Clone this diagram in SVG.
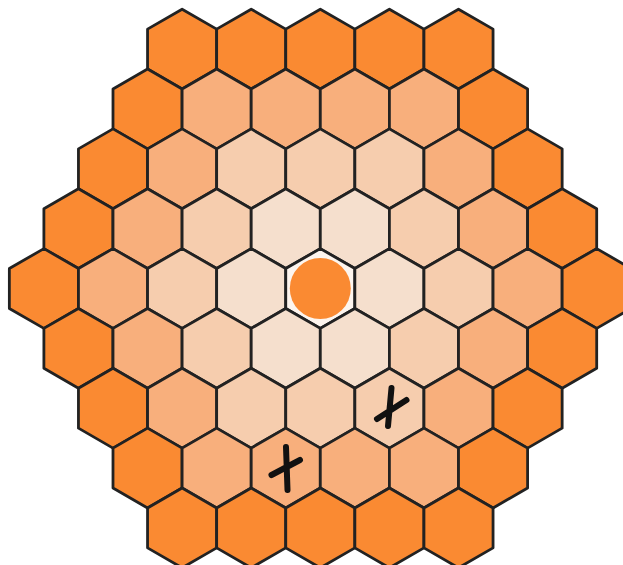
<svg xmlns="http://www.w3.org/2000/svg" xmlns:xlink="http://www.w3.org/1999/xlink" width="623" height="565" viewBox="0 0 623 565">
<style>
.r4{fill:#FA8A32}
.r3{fill:#F8AF7C}
.r2{fill:#F6CDAE}
.r1{fill:#F5DFCD}
.r0{fill:#FDF5EE}
use{stroke:#222;stroke-width:2.8;stroke-linejoin:round}
.x{fill:none;stroke:#111;stroke-width:6;stroke-linecap:round}
</style>
<defs>
<polygon id="h" points="0,-39.9 34.55,-19.95 34.55,19.95 0,39.9 -34.55,19.95 -34.55,-19.95"/>
</defs>
<rect width="623" height="565" fill="#fff"/>
<g id="grid">
<use href="#h" x="182.1" y="49.1" class="r4"/>
<use href="#h" x="251.2" y="49.1" class="r4"/>
<use href="#h" x="320.3" y="49.1" class="r4"/>
<use href="#h" x="389.4" y="49.1" class="r4"/>
<use href="#h" x="458.5" y="49.1" class="r4"/>
<use href="#h" x="147.55" y="108.95" class="r4"/>
<use href="#h" x="216.65" y="108.95" class="r3"/>
<use href="#h" x="285.75" y="108.95" class="r3"/>
<use href="#h" x="354.85" y="108.95" class="r3"/>
<use href="#h" x="423.95" y="108.95" class="r3"/>
<use href="#h" x="493.05" y="108.95" class="r4"/>
<use href="#h" x="113" y="168.8" class="r4"/>
<use href="#h" x="182.1" y="168.8" class="r3"/>
<use href="#h" x="251.2" y="168.8" class="r2"/>
<use href="#h" x="320.3" y="168.8" class="r2"/>
<use href="#h" x="389.4" y="168.8" class="r2"/>
<use href="#h" x="458.5" y="168.8" class="r3"/>
<use href="#h" x="527.6" y="168.8" class="r4"/>
<use href="#h" x="78.45" y="228.65" class="r4"/>
<use href="#h" x="147.55" y="228.65" class="r3"/>
<use href="#h" x="216.65" y="228.65" class="r2"/>
<use href="#h" x="285.75" y="228.65" class="r1"/>
<use href="#h" x="354.85" y="228.65" class="r1"/>
<use href="#h" x="423.95" y="228.65" class="r2"/>
<use href="#h" x="493.05" y="228.65" class="r3"/>
<use href="#h" x="562.15" y="228.65" class="r4"/>
<use href="#h" x="43.9" y="288.5" class="r4"/>
<use href="#h" x="113" y="288.5" class="r3"/>
<use href="#h" x="182.1" y="288.5" class="r2"/>
<use href="#h" x="251.2" y="288.5" class="r1"/>
<use href="#h" x="320.3" y="288.5" class="r0"/>
<use href="#h" x="389.4" y="288.5" class="r1"/>
<use href="#h" x="458.5" y="288.5" class="r2"/>
<use href="#h" x="527.6" y="288.5" class="r3"/>
<use href="#h" x="596.7" y="288.5" class="r4"/>
<use href="#h" x="78.45" y="348.35" class="r4"/>
<use href="#h" x="147.55" y="348.35" class="r3"/>
<use href="#h" x="216.65" y="348.35" class="r2"/>
<use href="#h" x="285.75" y="348.35" class="r1"/>
<use href="#h" x="354.85" y="348.35" class="r1"/>
<use href="#h" x="423.95" y="348.35" class="r2"/>
<use href="#h" x="493.05" y="348.35" class="r3"/>
<use href="#h" x="562.15" y="348.35" class="r4"/>
<use href="#h" x="113" y="408.2" class="r4"/>
<use href="#h" x="182.1" y="408.2" class="r3"/>
<use href="#h" x="251.2" y="408.2" class="r2"/>
<use href="#h" x="320.3" y="408.2" class="r2"/>
<use href="#h" x="389.4" y="408.2" class="r2"/>
<use href="#h" x="458.5" y="408.2" class="r3"/>
<use href="#h" x="527.6" y="408.2" class="r4"/>
<use href="#h" x="147.55" y="468.05" class="r4"/>
<use href="#h" x="216.65" y="468.05" class="r3"/>
<use href="#h" x="285.75" y="468.05" class="r3"/>
<use href="#h" x="354.85" y="468.05" class="r3"/>
<use href="#h" x="423.95" y="468.05" class="r3"/>
<use href="#h" x="493.05" y="468.05" class="r4"/>
<use href="#h" x="182.1" y="527.9" class="r4"/>
<use href="#h" x="251.2" y="527.9" class="r4"/>
<use href="#h" x="320.3" y="527.9" class="r4"/>
<use href="#h" x="389.4" y="527.9" class="r4"/>
<use href="#h" x="458.5" y="527.9" class="r4"/>
</g>
<g id="center">
<circle cx="320.3" cy="288.5" r="30.5" fill="#FA8A32"/>
</g>
<g id="marks">
<path class="x" d="M391.5,388 L388,426 M377,419 L406.5,400"/>
<path class="x" d="M286,447 L287.5,490 M271.5,475 L300,460"/>
</g>
</svg>
